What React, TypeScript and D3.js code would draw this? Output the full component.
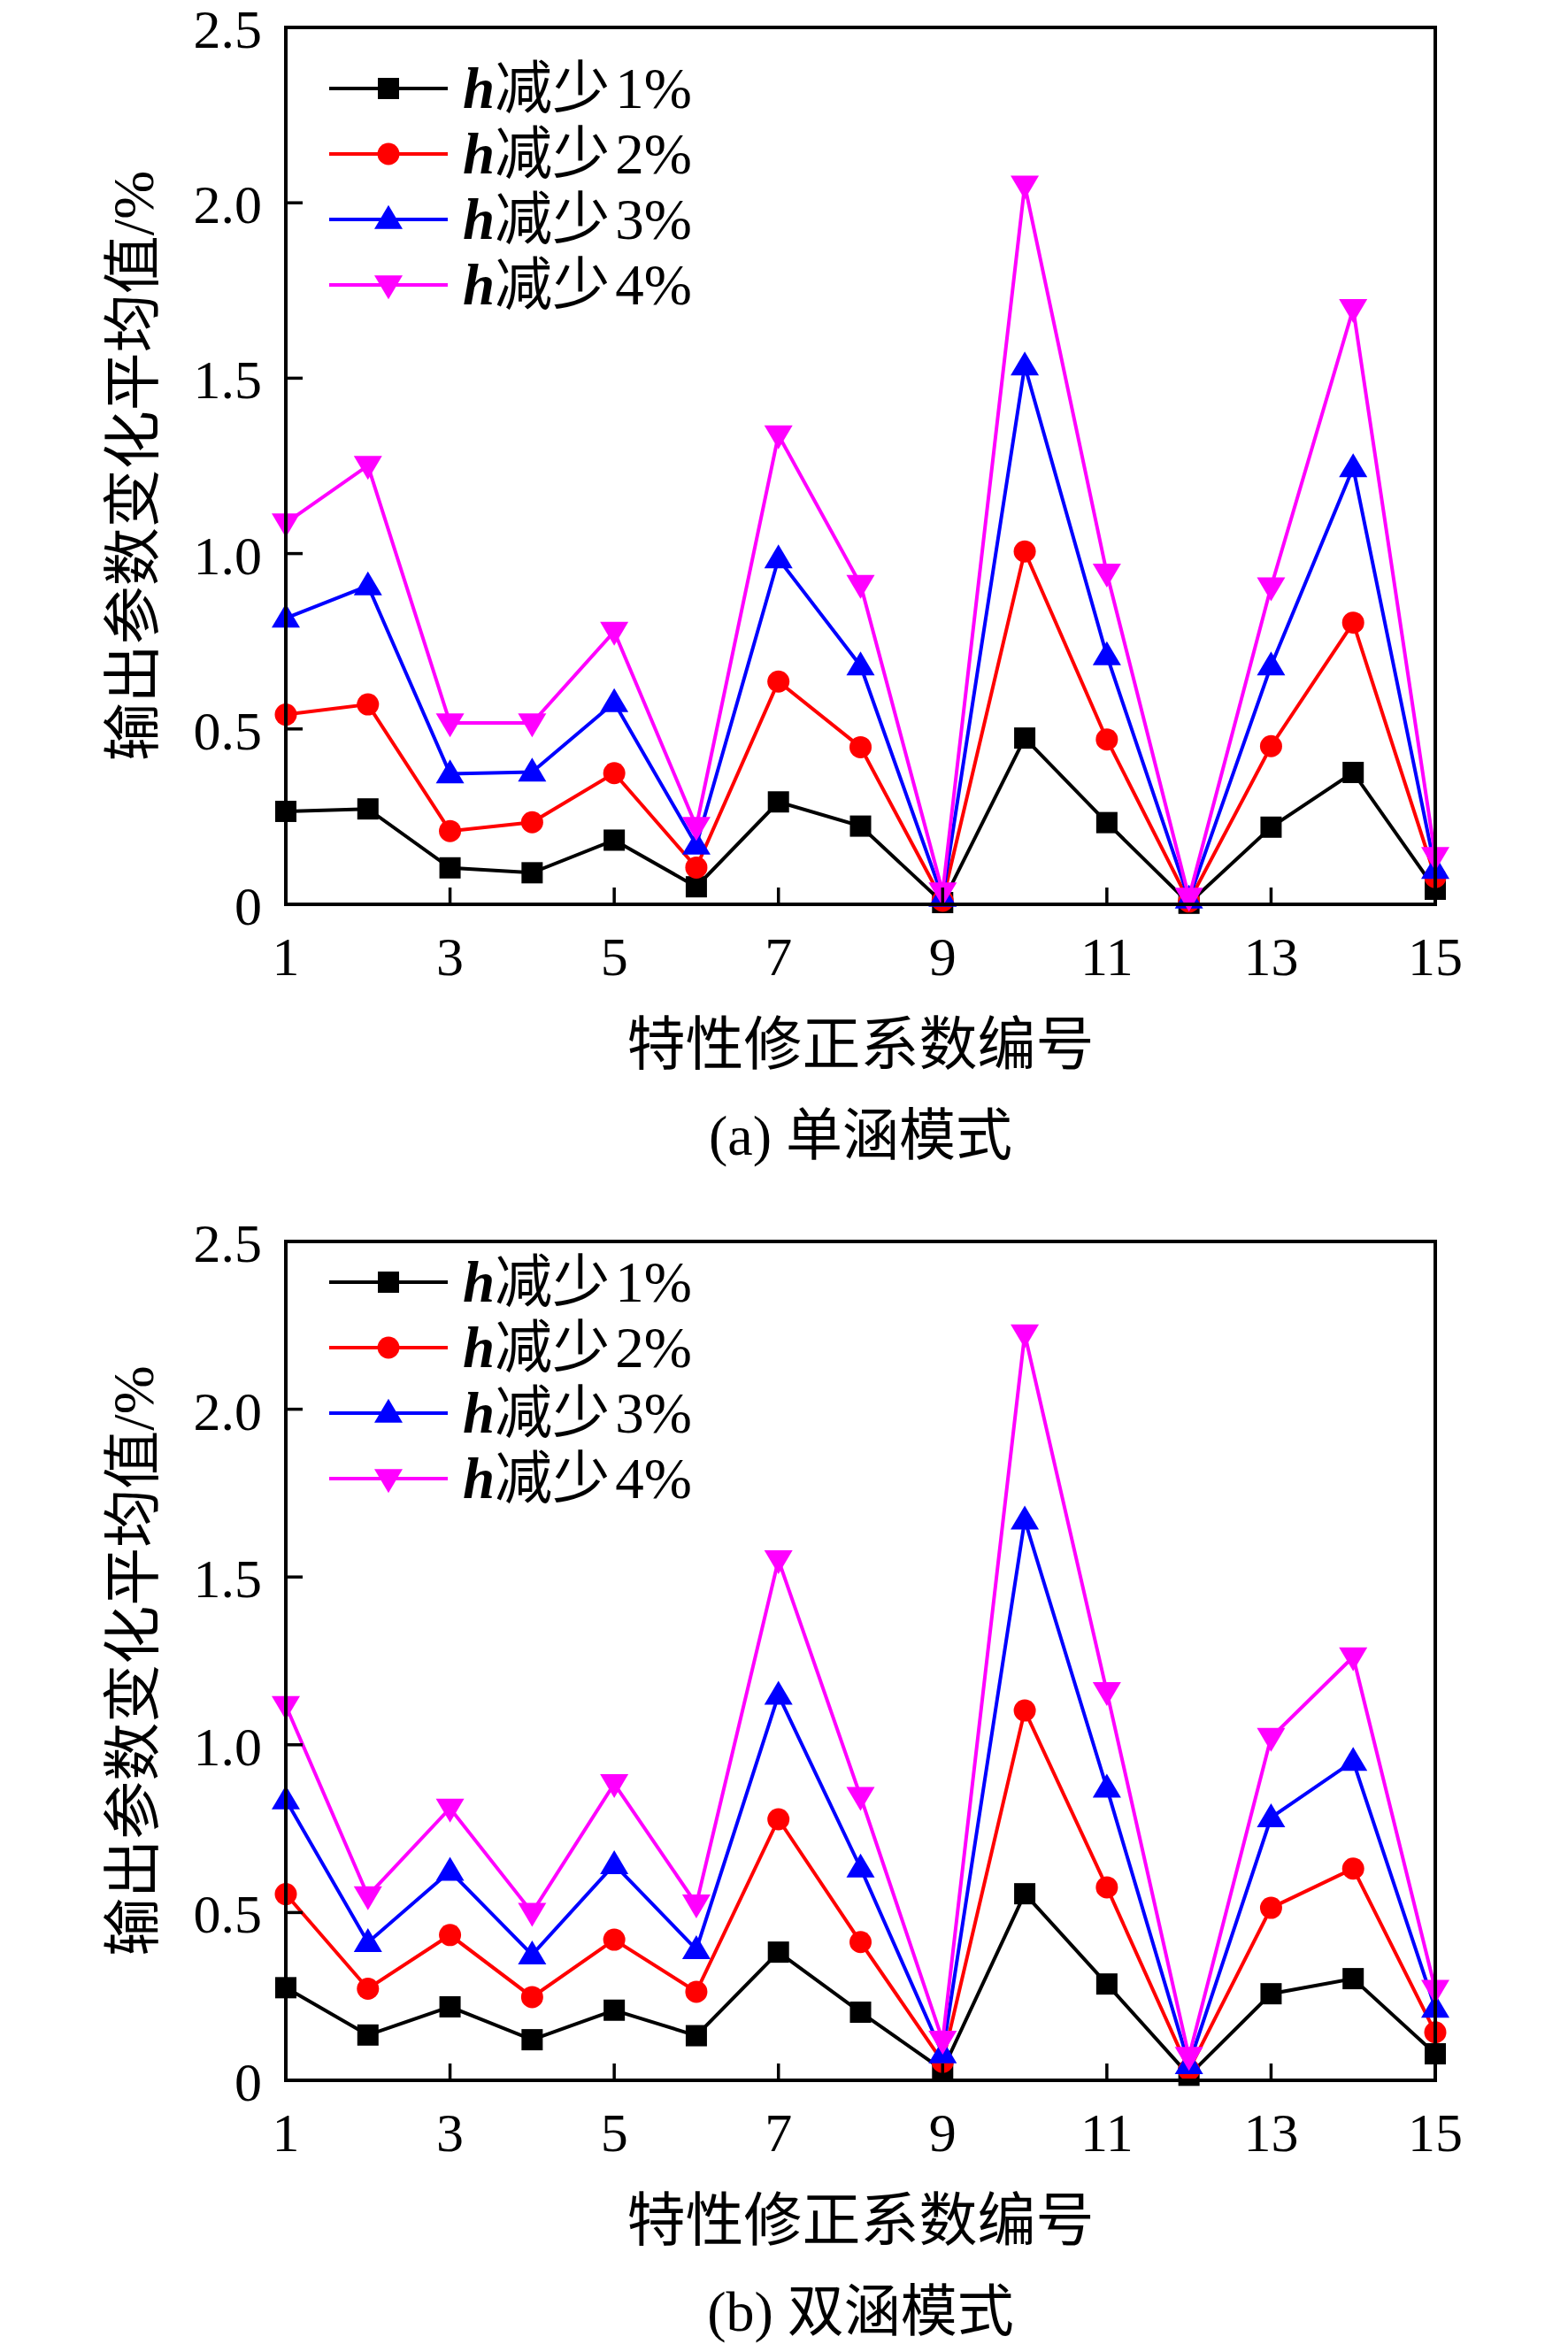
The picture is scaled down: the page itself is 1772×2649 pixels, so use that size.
import * as d3 from 'd3';

// 特性修正系数编号
const ids = d3.range(1, 16);
const xTicks = [1, 3, 5, 7, 9, 11, 13, 15];
const yTicks = [0, 0.5, 1.0, 1.5, 2.0, 2.5];
const yTickLabels = ['0', '0.5', '1.0', '1.5', '2.0', '2.5'];
const seriesNames = ['h减少1%', 'h减少2%', 'h减少3%', 'h减少4%'];
const seriesColors = ['#000000', '#FF0000', '#0000FF', '#FF00FF'];
const seriesShapes = ['square', 'circle', 'up', 'down'];

// (a) 单涵模式
const singleH1 = [0.265, 0.272, 0.104, 0.09, 0.183, 0.05, 0.292, 0.223, 0.005, 0.474, 0.233, 0.003, 0.22, 0.376, 0.043];
const singleH2 = [0.541, 0.57, 0.209, 0.234, 0.374, 0.105, 0.635, 0.448, 0.01, 1.006, 0.47, 0.008, 0.451, 0.803, 0.078];
const singleH3 = [0.816, 0.908, 0.372, 0.377, 0.575, 0.169, 0.985, 0.68, 0.02, 1.535, 0.709, 0.015, 0.68, 1.245, 0.1];
const singleH4 = [1.087, 1.251, 0.517, 0.517, 0.778, 0.222, 1.338, 0.912, 0.035, 2.05, 0.944, 0.02, 0.905, 1.698, 0.136];

// (b) 双涵模式
const dualH1 = [0.276, 0.135, 0.219, 0.121, 0.209, 0.133, 0.382, 0.203, 0.031, 0.556, 0.287, 0.015, 0.258, 0.303, 0.079];
const dualH2 = [0.555, 0.273, 0.433, 0.248, 0.419, 0.264, 0.778, 0.412, 0.055, 1.102, 0.575, 0.031, 0.514, 0.631, 0.143];
const dualH3 = [0.836, 0.411, 0.623, 0.374, 0.643, 0.39, 1.148, 0.633, 0.079, 1.67, 0.871, 0.047, 0.783, 0.951, 0.215];
const dualH4 = [1.117, 0.55, 0.811, 0.5, 0.884, 0.525, 1.551, 0.846, 0.119, 2.224, 1.158, 0.071, 1.022, 1.262, 0.271];

const W = 1772;
const H = 2649;
const serif = '"Liberation Serif", "Times New Roman", "Noto Sans CJK SC", serif';
const cjk = '"Liberation Serif", "Noto Sans CJK SC", serif';

const Marker = ({ shape, x, y, color }: { shape: string; x: number; y: number; color: string }) => {
  if (shape === 'square') return <rect x={x - 12} y={y - 12} width={24} height={24} fill={color} />;
  if (shape === 'circle') return <circle cx={x} cy={y} r={12.5} fill={color} />;
  const w = 16;
  const h = 27;
  const pts =
    shape === 'up'
      ? [[x, y - h * 0.6], [x - w, y + h * 0.4], [x + w, y + h * 0.4]]
      : [[x, y + h * 0.6], [x - w, y - h * 0.4], [x + w, y - h * 0.4]];
  return <polygon points={pts.map((p) => p.join(',')).join(' ')} fill={color} />;
};

const Panel = ({
  top,
  bottom,
  data,
  caption,
  legendTop,
}: {
  top: number;
  bottom: number;
  data: number[][];
  caption: string;
  legendTop: number;
}) => {
  const left = 323;
  const right = 1622;
  const x = d3.scaleLinear().domain([1, 15]).range([left, right]);
  const y = d3.scaleLinear().domain([0, 2.5]).range([bottom, top]);
  const line = d3
    .line<number>()
    .x((_, i) => x(ids[i]))
    .y((d) => y(d));

  return (
    <g>
      {/* 数据线 */}
      {data.map((s, k) => (
        <g key={k}>
          <path d={line(s) ?? ''} fill="none" stroke={seriesColors[k]} strokeWidth={4} strokeLinejoin="miter" />
          {s.map((v, i) => (
            <Marker key={i} shape={seriesShapes[k]} x={x(ids[i])} y={y(v)} color={seriesColors[k]} />
          ))}
        </g>
      ))}

      {/* 边框 */}
      <rect x={left} y={top} width={right - left} height={bottom - top} fill="none" stroke="#000" strokeWidth={4} />

      {/* Y 轴刻度 */}
      {yTicks.map((t, i) => (
        <g key={t}>
          {i > 0 && i < yTicks.length - 1 && (
            <line x1={left} x2={left + 19} y1={y(t)} y2={y(t)} stroke="#000" strokeWidth={3.5} />
          )}
          <text x={296} y={y(t) + 23} textAnchor="end" fontFamily={serif} fontSize={62} fill="#000">
            {yTickLabels[i]}
          </text>
        </g>
      ))}

      {/* X 轴刻度 */}
      {xTicks.map((t, i) => (
        <g key={t}>
          {i > 0 && i < xTicks.length - 1 && (
            <line x1={x(t)} x2={x(t)} y1={bottom} y2={bottom - 19} stroke="#000" strokeWidth={3.5} />
          )}
          <text x={x(t)} y={bottom + 80} textAnchor="middle" fontFamily={serif} fontSize={62} fill="#000">
            {t}
          </text>
        </g>
      ))}

      {/* 轴标题 */}
      <text
        transform={`translate(150, ${(top + bottom) / 2}) rotate(-90)`}
        textAnchor="middle"
        dominantBaseline="central"
        fontFamily={cjk}
        fontSize={66}
        fill="#000"
      >
        输出参数变化平均值/%
      </text>
      <text
        x={(left + right) / 2}
        y={bottom + 158}
        textAnchor="middle"
        dominantBaseline="central"
        fontFamily={cjk}
        fontSize={66}
        fill="#000"
      >
        特性修正系数编号
      </text>
      <text
        x={(left + right) / 2}
        y={bottom + 261}
        textAnchor="middle"
        dominantBaseline="central"
        fontFamily={cjk}
        fontSize={64}
        fill="#000"
      >
        {caption}
      </text>

      {/* 图例 */}
      {seriesNames.map((name, k) => {
        const ly = legendTop + k * 74;
        return (
          <g key={name}>
            <line x1={372} x2={506} y1={ly} y2={ly} stroke={seriesColors[k]} strokeWidth={4} />
            <Marker shape={seriesShapes[k]} x={439} y={ly} color={seriesColors[k]} />
            <text x={523} y={ly + 22} fontFamily={cjk} fontSize={65} fill="#000">
              <tspan fontWeight="bold" fontStyle="italic">
                {name.slice(0, 1)}
              </tspan>
              <tspan>{name.slice(1, 3)}</tspan>
              <tspan dx={6}>{name.slice(3)}</tspan>
            </text>
          </g>
        );
      })}
    </g>
  );
};

export default function App() {
  return (
    <div style={{ position: 'absolute', left: 0, top: 0 }}>
      <svg width={W} height={H} viewBox={`0 0 ${W} ${H}`} style={{ display: 'block', background: '#fff' }}>
        <rect width={W} height={H} fill="#fff" />
        <Panel
          top={31}
          bottom={1022}
          data={[singleH1, singleH2, singleH3, singleH4]}
          caption="(a) 单涵模式"
          legendTop={100}
        />
        <Panel
          top={1403}
          bottom={2351}
          data={[dualH1, dualH2, dualH3, dualH4]}
          caption="(b) 双涵模式"
          legendTop={1449}
        />
      </svg>
    </div>
  );
}
